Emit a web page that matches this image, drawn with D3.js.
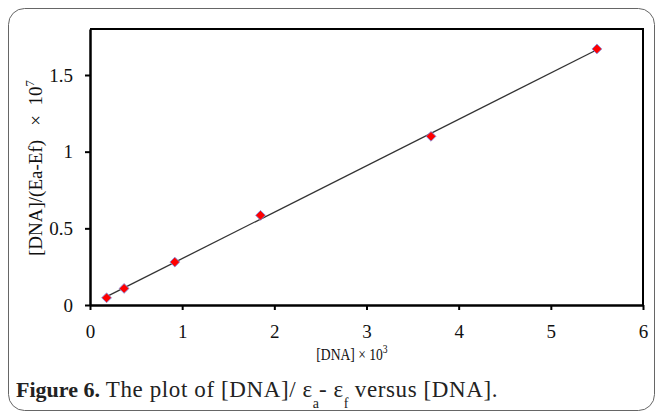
<!DOCTYPE html>
<meta charset="utf-8">
<style>
body { margin: 0; background: #fff; }
.frame { fill: none; stroke: #666; stroke-width: 1px; }
.box { fill: none; stroke: #000; stroke-width: 2px; }
.trend { fill: none; stroke: #333; stroke-width: 1.3px; }
.pt { fill: #ff0000; stroke: #7d8fe0; stroke-width: 0.8px; }
</style>
<svg width="657" height="412"></svg>
<script src="https://cdn.jsdelivr.net/npm/d3@7"></script>
<script>
// [DNA] x 10^3 and [DNA]/(Ea-Ef) x 10^7
var dnaX = [0.18, 0.37, 0.92, 1.85, 3.7, 5.5];
var ratioY = [0.047, 0.108, 0.28, 0.585, 1.10, 1.67];
var xTicks = [0, 1, 2, 3, 4, 5, 6];
var yTicks = [0, 0.5, 1, 1.5];

var serif = "'Liberation Serif', 'Times New Roman', serif";
var svg = d3.select("svg");
var margin = {left: 90, top: 29, right: 643, bottom: 305};

var x = d3.scaleLinear().domain([0, 6]).range([margin.left, margin.right]);
var y = d3.scaleLinear().domain([0, 1.8]).range([margin.bottom, margin.top]);

// outer rounded frame
svg.append("rect").attr("class", "frame")
    .attr("x", 8.5).attr("y", 8.5).attr("width", 646).attr("height", 402)
    .attr("rx", 16).attr("ry", 16);

// plot box (top and right)
svg.append("path").attr("class", "box")
    .attr("d", "M" + margin.left + "," + margin.top + "H" + margin.right + "V" + margin.bottom);

var xAxis = svg.append("g")
    .attr("transform", "translate(0," + margin.bottom + ")")
    .call(d3.axisBottom(x).tickValues(xTicks).tickFormat(d3.format("d")).tickSize(5).tickSizeOuter(0).tickPadding(15));
xAxis.select(".domain").attr("stroke", "#000").attr("stroke-width", 2.5);
xAxis.selectAll(".tick line").attr("stroke", "#000").attr("stroke-width", 2);
xAxis.selectAll("text").attr("font-family", serif).attr("font-size", 19).attr("fill", "#111");

var yAxis = svg.append("g")
    .attr("transform", "translate(" + margin.left + ",0)")
    .call(d3.axisLeft(y).tickValues(yTicks).tickFormat(function(d) { return d; }).tickSize(5).tickSizeOuter(0).tickPadding(12));
yAxis.select(".domain").attr("stroke", "#000").attr("stroke-width", 2.5);
yAxis.selectAll(".tick line").attr("stroke", "#000").attr("stroke-width", 2);
yAxis.selectAll("text").attr("font-family", serif).attr("font-size", 19).attr("fill", "#111");

// least squares trend line over the data range
var mx = d3.mean(dnaX), my = d3.mean(ratioY);
var sxy = d3.sum(dnaX, function(d, i) { return (d - mx) * (ratioY[i] - my); }),
    sxx = d3.sum(dnaX, function(d) { return (d - mx) * (d - mx); });
var slope = sxy / sxx, icpt = my - slope * mx;
var ends = d3.extent(dnaX);
svg.append("line").attr("class", "trend")
    .attr("x1", x(ends[0])).attr("y1", y(icpt + slope * ends[0]))
    .attr("x2", x(ends[1])).attr("y2", y(icpt + slope * ends[1]));

// red diamonds (square turned 45 degrees)
svg.selectAll(".pt").data(dnaX).enter().append("path")
    .attr("class", "pt")
    .attr("transform", function(d, i) { return "translate(" + x(d) + "," + y(ratioY[i]) + ") rotate(45)"; })
    .attr("d", d3.symbol().type(d3.symbolSquare).size(48));

// axis titles (narrowed, the original face is condensed)
var xl = svg.append("text").attr("transform", "translate(352,360) scale(0.8,1)").attr("text-anchor", "middle")
    .attr("font-family", serif).attr("font-size", 17).attr("fill", "#111");
xl.append("tspan").text("[DNA] × 10");
xl.append("tspan").attr("dy", -7).attr("font-size", 12).text("3");

var yl = svg.append("text").attr("transform", "translate(42,168) rotate(-90)")
    .attr("text-anchor", "middle").attr("font-family", serif).attr("font-size", 19).attr("fill", "#111");
yl.append("tspan").text("[DNA]/(Ea-Ef)");
yl.append("tspan").attr("xml:space", "preserve").text("   ×  10");
yl.append("tspan").attr("dy", -8).attr("font-size", 13).text("7");

// caption
var cap = svg.append("text").attr("x", 16).attr("y", 397)
    .attr("font-family", serif).attr("font-size", 23).attr("fill", "#222");
cap.append("tspan").attr("font-weight", "bold").attr("font-size", 22).text("Figure 6.");
cap.append("tspan").attr("letter-spacing", 0.6).text(" The plot of [DNA]/ ε");
cap.append("tspan").attr("dy", 11).attr("font-size", 14).text("a");
cap.append("tspan").attr("dy", -11).attr("letter-spacing", 0.6).text("- ε");
cap.append("tspan").attr("dy", 11).attr("font-size", 14).text("f");
cap.append("tspan").attr("dy", -11).attr("letter-spacing", 0.6).text(" versus [DNA].");
</script>
